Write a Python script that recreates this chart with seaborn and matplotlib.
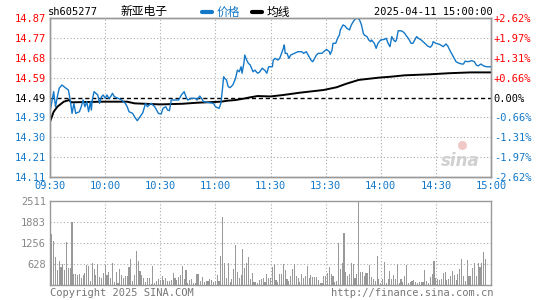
import matplotlib
matplotlib.use("Agg")
import matplotlib.pyplot as plt
import seaborn as sns
import pandas as pd
from matplotlib.lines import Line2D

# ---------------- data ----------------
stock_code = "sh605277"
stock_name = "新亚电子"
timestamp = "2025-04-11 15:00:00"
prev_close = 14.49

time_labels = ["09:30", "10:00", "10:30", "11:00", "11:30", "13:30", "14:00", "14:30", "15:00"]
time_label_minutes = [0, 30, 60, 90, 120, 150, 180, 210, 240]

price_ticks = [14.87, 14.775, 14.68, 14.585, 14.49, 14.395, 14.30, 14.205, 14.11]
price_tick_labels = ["14.87", "14.77", "14.68", "14.59", "14.49", "14.39", "14.30", "14.21", "14.11"]
pct_tick_labels = ["+2.62%", "+1.97%", "+1.31%", "+0.66%", "0.00%", "-0.66%", "-1.31%", "-1.97%", "-2.62%"]

vol_ticks = [628, 1256, 1883, 2511]
vol_tick_labels = ["628", "1256", "1883", "2511"]

# price line (minute offset from 09:30 in trading minutes, price)
price_minute = [0, 2, 3, 4, 5, 6.5, 8, 10, 11, 12, 13, 14, 16, 17, 18, 19, 20, 21, 22, 22.5,
                23, 24, 26, 27, 28, 29, 30, 31, 32, 33, 34, 35, 37, 39, 41, 42, 43, 45, 46, 47.5,
                49, 50.5, 52, 53, 55, 57, 59, 60.5, 61.5, 63, 64, 65, 66, 70, 71.5, 73, 74, 75, 77, 79,
                80, 81.5, 82.5, 83.5, 87, 89, 90, 92, 93, 93.8, 94.5, 95, 96, 97, 98, 99.5, 101, 102, 103, 104,
                104.5, 105.5, 106, 107, 108, 109, 110.5, 111.5, 113, 114, 115.5, 117, 118, 119, 121, 121.5, 122.5, 124, 125, 126,
                127, 127.5, 128, 129, 130, 131, 133, 135, 137, 138, 139.5, 140.5, 141.5, 142, 143, 144, 145, 146, 148, 149,
                150.5, 152, 152.5, 153.5, 154, 155.5, 156.5, 157.5, 158, 159.5, 160.5, 161.5, 163, 164, 165, 166, 167, 167.5, 168.5, 169.5,
                170.5, 171, 172.5, 173.5, 174.5, 175, 176.5, 177.5, 178.5, 180, 182, 183, 184, 185, 186, 187, 188, 188.5, 189.5, 191,
                192, 193, 194, 195, 196, 196.5, 197.5, 198.5, 199.5, 200.5, 202, 204, 205.5, 207, 208, 208.5, 210, 212, 214, 215.5,
                216.5, 217.5, 218.5, 220, 221, 222, 224, 225, 226, 227.5, 229.5, 231, 232, 233, 234.5, 236, 237.5, 240]
price_value = [14.420, 14.518, 14.446, 14.494, 14.534, 14.550, 14.539, 14.526, 14.478, 14.414, 14.462, 14.414, 14.422, 14.446, 14.478, 14.446, 14.470, 14.422, 14.470, 14.430,
               14.478, 14.518, 14.502, 14.462, 14.494, 14.502, 14.486, 14.502, 14.486, 14.494, 14.510, 14.494, 14.486, 14.478, 14.462, 14.446, 14.422, 14.414, 14.398, 14.379,
               14.398, 14.417, 14.462, 14.446, 14.462, 14.446, 14.414, 14.411, 14.438, 14.446, 14.430, 14.427, 14.478, 14.478, 14.502, 14.518, 14.494, 14.478, 14.486, 14.486,
               14.478, 14.497, 14.486, 14.470, 14.465, 14.462, 14.446, 14.438, 14.462, 14.526, 14.589, 14.582, 14.574, 14.542, 14.537, 14.550, 14.582, 14.621, 14.613, 14.637,
               14.606, 14.653, 14.693, 14.669, 14.653, 14.645, 14.613, 14.621, 14.606, 14.611, 14.630, 14.619, 14.606, 14.637, 14.637, 14.669, 14.677, 14.669, 14.677, 14.701,
               14.725, 14.741, 14.701, 14.701, 14.677, 14.693, 14.701, 14.709, 14.709, 14.701, 14.709, 14.693, 14.677, 14.669, 14.661, 14.677, 14.693, 14.701, 14.701, 14.709,
               14.720, 14.709, 14.696, 14.717, 14.749, 14.749, 14.773, 14.789, 14.813, 14.837, 14.832, 14.821, 14.813, 14.837, 14.852, 14.864, 14.869, 14.870, 14.860, 14.837,
               14.797, 14.789, 14.781, 14.765, 14.757, 14.765, 14.749, 14.725, 14.749, 14.765, 14.768, 14.773, 14.749, 14.733, 14.781, 14.765, 14.757, 14.765, 14.809, 14.809,
               14.805, 14.797, 14.784, 14.773, 14.757, 14.749, 14.749, 14.765, 14.781, 14.773, 14.765, 14.749, 14.736, 14.730, 14.741, 14.757, 14.749, 14.744, 14.733, 14.746,
               14.736, 14.717, 14.701, 14.677, 14.661, 14.656, 14.650, 14.650, 14.664, 14.661, 14.666, 14.661, 14.645, 14.641, 14.650, 14.641, 14.637, 14.637]

# average price line
avg_minute = [0, 2, 4, 7.5, 10.5, 11.5, 29, 42, 46, 60, 72, 80, 93, 97, 101, 105, 109, 113, 120, 127,
              136, 149, 156, 161, 168, 179, 185, 193, 207, 217, 229, 240]
avg_value = [14.374, 14.422, 14.446, 14.470, 14.478, 14.467, 14.470, 14.470, 14.462, 14.457, 14.460, 14.465, 14.470, 14.475, 14.478, 14.484, 14.491, 14.497, 14.495, 14.502,
             14.513, 14.526, 14.539, 14.555, 14.574, 14.585, 14.589, 14.596, 14.601, 14.606, 14.610, 14.610]

# volume per minute, morning (09:30-11:30) and afternoon (13:01-15:00)
vol_am = [650, 1520, 1320, 840, 450, 720, 550, 620, 450, 1280,
          500, 520, 1880, 330, 330, 300, 320, 200, 300, 350,
          600, 570, 120, 650, 480, 300, 620, 250, 220, 350,
          600, 300, 400, 220, 650, 80, 380, 50, 480, 300,
          200, 280, 270, 540, 780, 120, 300, 1020, 720, 420,
          300, 220, 100, 220, 220, 40, 570, 70, 120, 170,
          140, 270, 150, 200, 120, 120, 150, 350, 220, 150,
          250, 300, 570, 180, 450, 50, 150, 180, 70, 70,
          340, 320, 120, 250, 80, 120, 120, 180, 150, 80,
          120, 300, 120, 870, 2020, 650, 200, 650, 80, 180,
          480, 1200, 380, 220, 300, 1080, 500, 650, 840, 180,
          350, 80, 80, 50, 150, 180, 220, 80, 330, 220,
          200]
vol_pm = [550, 620, 150, 80, 330, 330, 620, 450, 180, 120,
          270, 480, 620, 270, 220, 80, 330, 200, 270, 580,
          200, 300, 250, 250, 250, 150, 70, 70, 270, 270,
          350, 550, 330, 270, 80, 120, 1260, 480, 650, 1560,
          380, 280, 330, 650, 620, 220, 330, 2511, 380, 380,
          280, 360, 360, 600, 250, 180, 120, 870, 180, 70,
          180, 700, 50, 180, 420, 180, 300, 180, 620, 70,
          180, 80, 270, 600, 50, 80, 120, 150, 80, 50,
          80, 80, 100, 450, 120, 70, 250, 330, 720, 220,
          180, 150, 170, 350, 400, 150, 180, 280, 420, 300,
          150, 320, 480, 780, 280, 120, 750, 280, 280, 500,
          650, 280, 650, 550, 670, 980, 780, 0, 0, 0]

# ---------------- style ----------------
sns.set_theme(style="white")
plt.rcParams["font.family"] = ["DejaVu Sans Mono", "Noto Sans CJK SC"]

BLUE = "#1478C8"
RED = "#FF0000"
GRAY = "#999999"
GRID = "#AAAAAA"
MONO = ["DejaVu Sans Mono"]
CJK = ["Noto Sans CJK SC", "DejaVu Sans"]
FS = 7.5

W, H = 545, 300
fig = plt.figure(figsize=(W / 100, H / 100), dpi=100)
fig.patch.set_facecolor("white")

x0, x1 = 50, 491
ax = fig.add_axes([x0 / W, 1 - 177 / H, (x1 - x0) / W, 159 / H])
axv = fig.add_axes([x0 / W, 1 - 285 / H, (x1 - x0) / W, 84 / H])

price_df = pd.DataFrame({"minute": price_minute, "price": price_value})
avg_df = pd.DataFrame({"minute": avg_minute, "avg": avg_value})
vol_df = pd.DataFrame({"minute": list(range(len(vol_am) + len(vol_pm))), "volume": vol_am + vol_pm})

# grid
for t in price_ticks[1:-1]:
    if abs(t - prev_close) < 1e-9:
        ax.axhline(t, color="black", lw=1.0, ls=(0, (3, 2)), zorder=1)
    else:
        ax.axhline(t, color=GRID, lw=0.8, ls=(0, (1, 2)), zorder=1)
for m in time_label_minutes[1:-1]:
    ax.axvline(m, color=GRID, lw=0.8, ls=(0, (1, 2)), zorder=1)
    axv.axvline(m, color=GRID, lw=0.8, ls=(0, (1, 2)), zorder=1)
for v in vol_ticks[:-1]:
    axv.axhline(v, color=GRID, lw=0.8, ls=(0, (1, 2)), zorder=1)

sns.lineplot(data=avg_df, x="minute", y="avg", ax=ax, color="black", lw=1.4,
             estimator=None, sort=False, zorder=3)
sns.lineplot(data=price_df, x="minute", y="price", ax=ax, color=BLUE, lw=1.0,
             estimator=None, sort=False, zorder=4)

ax.set_xlim(0, 240)
ax.set_ylim(price_ticks[-1], price_ticks[0])
ax.set_xlabel("")
ax.set_ylabel("")
ax.set_yticks(price_ticks)
ax.set_yticklabels(price_tick_labels, family=MONO, fontsize=FS)
for lab, t in zip(ax.get_yticklabels(), price_ticks):
    lab.set_color(RED if t > prev_close + 1e-9 else ("black" if abs(t - prev_close) < 1e-9 else BLUE))
ax.set_xticks(time_label_minutes)
ax.set_xticklabels(time_labels, family=MONO, fontsize=FS, color=BLUE)
ax.tick_params(axis="both", length=0, pad=3)

axr = ax.twinx()
axr.set_ylim(price_ticks[-1], price_ticks[0])
axr.set_yticks(price_ticks)
axr.set_yticklabels(pct_tick_labels, family=MONO, fontsize=FS)
for lab, t in zip(axr.get_yticklabels(), price_ticks):
    lab.set_color(RED if t > prev_close + 1e-9 else ("black" if abs(t - prev_close) < 1e-9 else BLUE))
axr.tick_params(axis="y", length=0, pad=2)
axr.grid(False)

for a in (ax, axr, axv):
    for s in a.spines.values():
        s.set_color(GRAY)
        s.set_linewidth(1.0)

# watermark
ax.text(0.93, 0.1, "sina", transform=ax.transAxes, fontsize=12, fontweight="bold",
        fontstyle="italic", color="#D0D0D0", ha="center", va="center", family=["DejaVu Sans"], zorder=2)
ax.scatter([0.935], [0.2], transform=ax.transAxes, s=30, color="#F0C8C8", zorder=2)

# volume
sns.barplot(data=vol_df, x="minute", y="volume", ax=axv, color="#999999", native_scale=True,
            width=0.6, linewidth=0, saturation=1, zorder=3, antialiased=False)
axv.set_xlim(0, 240)
axv.set_ylim(0, vol_ticks[-1])
axv.set_xlabel("")
axv.set_ylabel("")
axv.set_xticks([])
axv.set_yticks(vol_ticks)
axv.set_yticklabels(vol_tick_labels, family=MONO, fontsize=FS, color="#888888")
axv.tick_params(axis="y", length=0, pad=3)

# header
ty = 1 - 12 / H
fig.text(48 / W, ty, stock_code, family=MONO, fontsize=FS, va="center", ha="left", color="black")
fig.text(121 / W, ty, stock_name, family=CJK, fontsize=8.5, va="center", ha="left", color="black")
fig.add_artist(Line2D([202 / W, 212 / W], [ty, ty], color=BLUE, lw=3, transform=fig.transFigure))
fig.text(217 / W, ty, "价格", family=CJK, fontsize=8.5, va="center", ha="left", color=BLUE)
fig.add_artist(Line2D([252 / W, 262 / W], [ty, ty], color="black", lw=3, transform=fig.transFigure))
fig.text(267 / W, ty, "均线", family=CJK, fontsize=8.5, va="center", ha="left", color="black")
fig.text(493 / W, ty, timestamp, family=MONO, fontsize=FS, va="center", ha="right", color="black")

# footer
fy = 1 - 293 / H
fig.text(50 / W, fy, "Copyright 2025 SINA.COM", family=MONO, fontsize=FS, va="center", ha="left", color="#777777")
fig.text(493 / W, fy, "http://finance.sina.com.cn", family=MONO, fontsize=FS, va="center", ha="right", color="#777777")

fig.savefig("out.png", dpi=100, facecolor="white")
